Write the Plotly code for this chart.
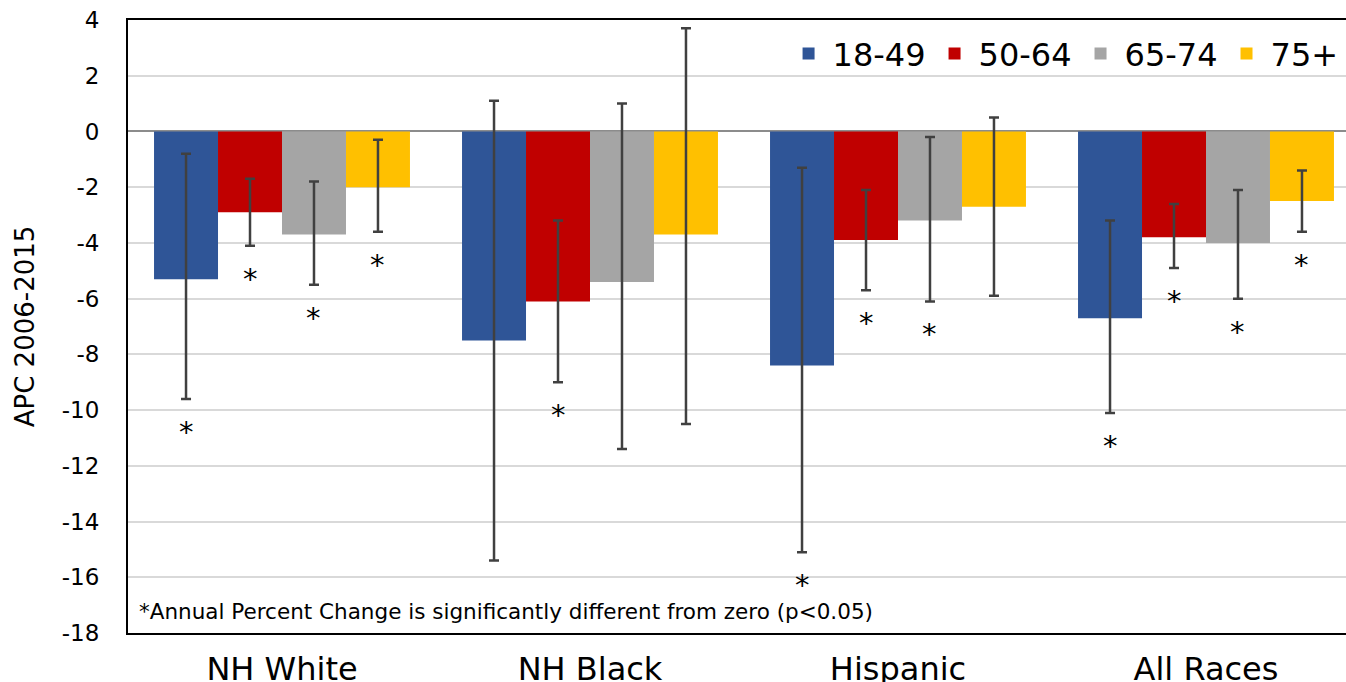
import plotly.graph_objects as go

categories = ["NH White", "NH Black", "Hispanic", "All Races"]
age_groups = ["18-49", "50-64", "65-74", "75+"]
colors = ["#2F5597", "#C00000", "#A5A5A5", "#FFC000"]

# APC values per age group (across categories)
apc = {
    "18-49": [-5.3, -7.5, -8.4, -6.7],
    "50-64": [-2.9, -6.1, -3.9, -3.8],
    "65-74": [-3.7, -5.4, -3.2, -4.0],
    "75+":   [-2.0, -3.7, -2.7, -2.5],
}
ci_upper = {
    "18-49": [-0.8, 1.1, -1.3, -3.2],
    "50-64": [-1.7, -3.2, -2.1, -2.6],
    "65-74": [-1.8, 1.0, -0.2, -2.1],
    "75+":   [-0.3, 3.7, 0.5, -1.4],
}
ci_lower = {
    "18-49": [-9.6, -15.4, -15.1, -10.1],
    "50-64": [-4.1, -9.0, -5.7, -4.9],
    "65-74": [-5.5, -11.4, -6.1, -6.0],
    "75+":   [-3.6, -10.5, -5.9, -3.6],
}
significant = {
    "18-49": [True, False, True, True],
    "50-64": [True, True, True, True],
    "65-74": [True, False, True, True],
    "75+":   [True, False, False, True],
}
y_ticks = list(range(-18, 5, 2))
y_tick_labels = [str(t) for t in y_ticks]
footnote = "*Annual Percent Change is significantly different from zero (p<0.05)"

FONT = "DejaVu Sans, Verdana, sans-serif"

fig = go.Figure()
for g, c in zip(age_groups, colors):
    v = apc[g]
    fig.add_trace(go.Bar(
        name=g, x=categories, y=v, marker=dict(color=c, line=dict(width=0)),
        error_y=dict(type="data", symmetric=False,
                     array=[u - a for u, a in zip(ci_upper[g], v)],
                     arrayminus=[a - l for a, l in zip(v, ci_lower[g])],
                     color="#404040", thickness=2.5, width=5),
    ))
fig.update_layout(barmode="group", bargap=0.169, bargroupgap=0)

# asterisk annotations positioned through category + bar offset
n = len(age_groups)
group_w = 1 - 0.169
bar_w = group_w / n
for gi, g in enumerate(age_groups):
    off = -group_w / 2 + bar_w * (gi + 0.5)
    for ci, cat in enumerate(categories):
        if significant[g][ci]:
            fig.add_annotation(x=ci + off, y=ci_lower[g][ci], xref="x", yref="y",
                               text="*", showarrow=False, yanchor="middle",
                               yshift=-33, font=dict(size=29, color="#000000", family=FONT))

fig.add_annotation(x=0.007, y=0.012, xref="paper", yref="paper", xanchor="left", yanchor="bottom",
                   text=footnote, showarrow=False, font=dict(size=21.5, color="#000000", family=FONT))

fig.update_layout(
    width=1346, height=682,
    margin=dict(l=128, r=0, t=20, b=49),
    paper_bgcolor="white", plot_bgcolor="white",
    font=dict(family=FONT, color="#000000"),
    legend=dict(orientation="h", x=0.998, y=0.99, xanchor="right", yanchor="top",
                font=dict(size=32, family=FONT), itemwidth=38, bgcolor="rgba(0,0,0,0)",
                traceorder="normal"),
    xaxis=dict(type="category", range=[-0.5, 3.5 - 14 / 308], showgrid=False, automargin=False,
               showline=True, linecolor="#000000", linewidth=2, mirror=True,
               ticks="", ticklabelstandoff=7, tickfont=dict(size=32, family=FONT)),
    yaxis=dict(range=[-18, 4], tickvals=y_ticks, ticktext=y_tick_labels, automargin=False,
               showgrid=True, gridcolor="#D9D9D9", gridwidth=1.5,
               zeroline=True, zerolinecolor="#8C8C8C", zerolinewidth=2,
               showline=True, linecolor="#000000", linewidth=2, mirror=True,
               ticks="", ticklabelstandoff=22, tickfont=dict(size=23, family=FONT),
               title=dict(text="APC 2006-2015", font=dict(size=26, family=FONT), standoff=20)),
)

fig.write_html("out.html")
